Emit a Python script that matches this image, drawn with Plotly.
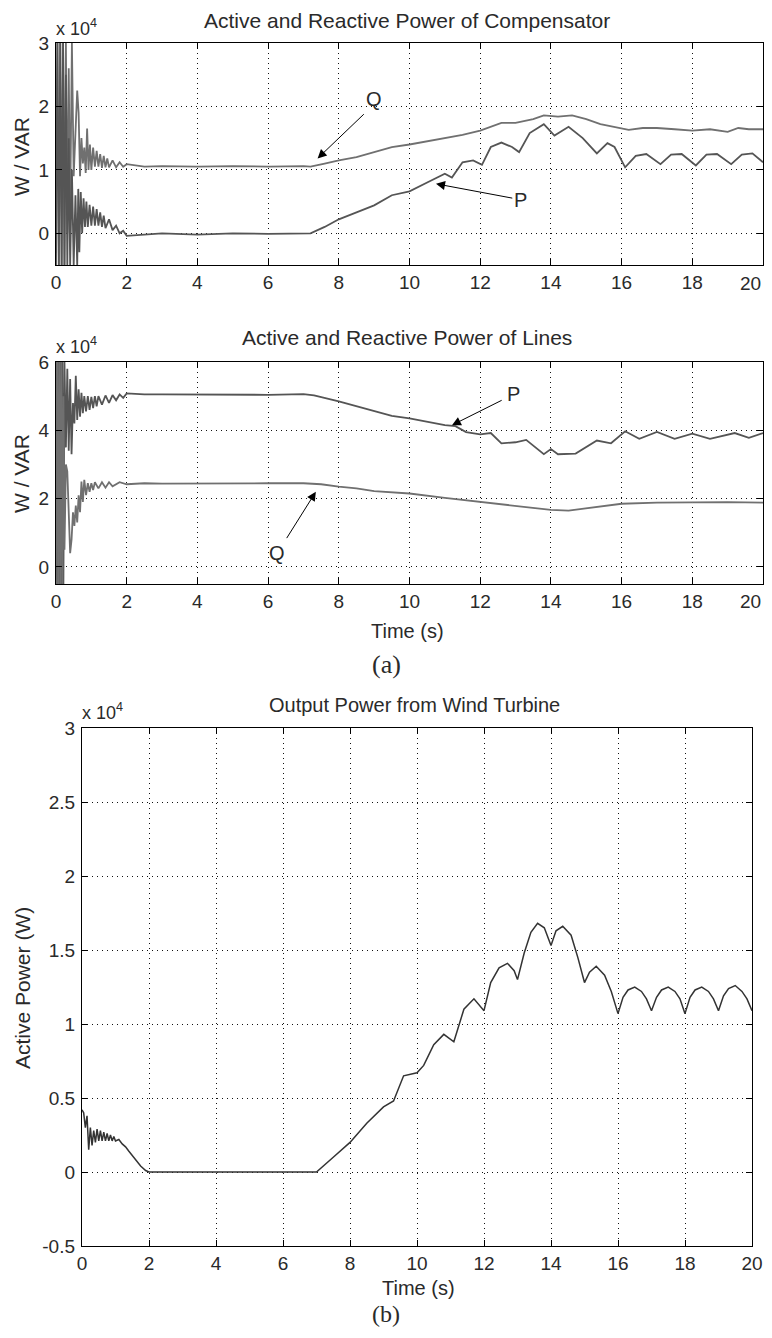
import plotly.graph_objects as go

# ---------------- data (values in units of 1e4) ----------------
# (a) top: Active and Reactive Power of Compensator
comp_q_t = [0.00,0.04,0.08,0.12,0.16,0.20,0.24,0.28,0.32,0.36,
            0.40,0.45,0.50,0.55,0.60,0.64,0.68,0.72,0.76,0.80,
            0.84,0.88,0.92,0.96,1.00,1.05,1.10,1.15,1.20,1.25,
            1.30,1.35,1.40,1.45,1.50,1.60,1.70,1.80,1.90,2.00,
            2.5,3.0,4.0,5.0,6.0,7.0,7.2,7.6,8.0,8.5,
            9.0,9.5,10.0,10.5,11.0,11.5,12.0,12.3,12.6,13.0,
            13.5,13.8,14.2,14.6,15.0,15.4,15.8,16.2,16.6,17.0,
            17.5,18.0,18.5,19.0,19.3,19.6,20.0]
comp_q_v = [1.0,3.0,-0.5,3.0,-0.5,3.0,-0.5,3.0,0.0,2.6,
            0.3,3.0,0.9,1.6,2.25,1.9,0.9,1.5,1.1,1.35,
            0.95,1.65,1.0,1.4,1.0,1.35,1.05,1.3,1.05,1.25,
            1.03,1.22,1.04,1.18,1.04,1.15,1.04,1.12,1.05,1.09,
            1.05,1.06,1.05,1.06,1.05,1.06,1.05,1.10,1.15,1.20,
            1.28,1.36,1.40,1.45,1.50,1.55,1.62,1.68,1.74,1.74,
            1.80,1.86,1.84,1.86,1.80,1.72,1.68,1.63,1.66,1.66,
            1.64,1.62,1.64,1.60,1.66,1.64,1.64]

comp_p_t = [0.00,0.04,0.08,0.12,0.16,0.20,0.24,0.28,0.32,0.36,
            0.40,0.45,0.50,0.55,0.60,0.63,0.66,0.70,0.74,0.78,
            0.82,0.86,0.90,0.95,1.00,1.05,1.10,1.15,1.20,1.25,
            1.30,1.35,1.40,1.50,1.60,1.70,1.80,1.90,2.00,2.5,
            3.0,4.0,5.0,6.0,7.0,7.2,7.6,8.0,8.5,9.0,
            9.5,10.0,10.5,11.0,11.2,11.5,11.8,12.05,12.3,12.6,
            12.9,13.1,13.4,13.8,14.1,14.5,14.9,15.3,15.6,15.8,
            16.1,16.4,16.7,17.1,17.4,17.7,18.1,18.4,18.7,19.1,
            19.4,19.7,20.0]
comp_p_v = [-0.5,3.0,-0.5,3.0,-0.5,3.0,-0.5,2.5,-0.5,1.5,
            -0.5,1.0,-0.5,0.6,-0.5,0.7,-0.3,0.65,0.0,0.55,
            0.1,0.5,0.1,0.45,0.12,0.42,0.12,0.38,0.12,0.33,
            0.10,0.28,0.08,0.22,0.05,0.12,0.0,0.04,-0.04,-0.02,
            0.0,-0.02,0.0,-0.01,0.0,0.0,0.1,0.22,0.33,0.44,
            0.6,0.66,0.80,0.94,0.88,1.12,1.15,1.08,1.36,1.43,
            1.36,1.28,1.58,1.72,1.54,1.68,1.50,1.26,1.42,1.36,
            1.04,1.22,1.25,1.09,1.24,1.25,1.07,1.24,1.25,1.09,
            1.24,1.26,1.12]

# (a) middle: Active and Reactive Power of Lines
line_p_t = [0.00,0.03,0.06,0.09,0.12,0.15,0.18,0.21,0.24,0.28,
            0.32,0.36,0.40,0.44,0.48,0.52,0.56,0.60,0.64,0.68,
            0.72,0.76,0.80,0.85,0.90,0.95,1.00,1.05,1.10,1.15,
            1.20,1.30,1.40,1.50,1.60,1.70,1.80,1.90,2.00,2.5,
            3.0,4.0,5.0,6.0,7.0,7.3,8.0,8.5,9.0,9.5,
            10.0,10.5,11.0,11.3,11.6,12.0,12.3,12.6,13.0,13.3,
            13.8,14.0,14.2,14.7,15.3,15.7,16.1,16.5,17.0,17.5,
            18.0,18.5,19.2,19.6,20.0]
line_p_v = [6.0,-0.5,6.0,-0.5,6.0,-0.5,6.0,-0.5,6.0,3.5,
            5.8,3.4,5.5,3.3,4.8,4.2,5.6,4.3,5.2,4.4,
            5.1,4.5,5.0,4.55,5.0,4.6,4.98,4.65,5.0,4.7,
            5.0,4.75,5.02,4.8,5.03,4.88,5.05,4.95,5.08,5.05,
            5.05,5.04,5.05,5.04,5.06,5.02,4.85,4.70,4.55,4.42,
            4.35,4.25,4.15,4.12,3.95,3.88,3.92,3.62,3.65,3.72,
            3.30,3.45,3.30,3.32,3.70,3.62,3.97,3.75,3.95,3.75,
            3.90,3.75,3.92,3.78,3.92]

line_q_t = [0.00,0.03,0.06,0.09,0.12,0.15,0.18,0.21,0.24,
            0.28,0.32,0.36,0.40,0.44,0.48,0.52,0.56,0.60,
            0.64,0.68,0.72,0.76,0.80,0.85,0.90,0.95,1.00,
            1.05,1.10,1.20,1.30,1.40,1.50,1.60,1.80,2.00,
            2.5,3.0,4.0,5.0,6.0,7.0,7.5,8.0,8.5,
            9.0,10.0,11.0,12.0,12.5,13.0,13.5,14.0,14.5,
            15.0,15.5,16.0,17.0,18.0,19.0,20.0]
line_q_v = [0.0,6.0,-0.5,6.0,-0.5,6.0,-0.5,5.0,0.5,
            3.0,2.8,1.5,0.4,0.8,1.6,1.2,1.8,1.3,
            2.1,1.6,2.5,1.9,2.55,2.1,2.45,2.2,2.45,
            2.25,2.48,2.3,2.48,2.32,2.48,2.36,2.48,2.42,
            2.45,2.44,2.45,2.44,2.45,2.45,2.42,2.35,2.30,
            2.22,2.15,2.02,1.90,1.85,1.78,1.72,1.67,1.65,
            1.72,1.78,1.85,1.88,1.90,1.90,1.88]

# (b): Output Power from Wind Turbine
wt_t = [0.00,0.05,0.10,0.15,0.20,0.25,0.30,0.35,0.40,0.45,
        0.50,0.55,0.60,0.65,0.70,0.75,0.80,0.85,0.90,0.95,
        1.00,1.10,1.20,1.30,1.40,1.50,1.60,1.75,1.90,2.00,
        3.0,4.0,5.0,6.0,7.00,7.5,8.0,8.5,9.0,9.3,
        9.6,10.0,10.2,10.5,10.8,11.1,11.4,11.7,12.0,12.2,
        12.45,12.7,12.9,13.0,13.2,13.4,13.6,13.8,14.0,14.15,
        14.35,14.6,14.8,15.0,15.15,15.35,15.6,15.8,16.0,16.15,
        16.3,16.5,16.7,16.85,17.0,17.15,17.3,17.5,17.7,17.85,
        18.0,18.15,18.3,18.5,18.7,18.85,19.0,19.15,19.3,19.5,
        19.7,19.85,20.0]
wt_v = [0.42,0.40,0.30,0.38,0.15,0.30,0.18,0.28,0.20,0.29,
        0.21,0.28,0.21,0.27,0.21,0.26,0.21,0.25,0.21,0.24,
        0.21,0.22,0.19,0.17,0.14,0.11,0.08,0.04,0.01,0.0,
        0.0,0.0,0.0,0.0,0.0,0.10,0.20,0.33,0.44,0.48,
        0.65,0.67,0.72,0.86,0.93,0.88,1.10,1.17,1.09,1.28,
        1.38,1.41,1.36,1.30,1.48,1.62,1.68,1.65,1.53,1.63,
        1.66,1.60,1.45,1.28,1.35,1.39,1.33,1.22,1.07,1.18,
        1.23,1.25,1.22,1.17,1.09,1.18,1.23,1.25,1.22,1.17,
        1.07,1.18,1.23,1.25,1.22,1.17,1.09,1.19,1.24,1.26,
        1.22,1.17,1.09]

x_ticks = [0, 2, 4, 6, 8, 10, 12, 14, 16, 18, 20]
x_labels_ab = ["0", "2", "4", "6", "8", "10", "12", "14", "16", "18", ""]
y1_ticks = [0, 1, 2, 3]
y2_ticks = [0, 2, 4, 6]
y3_ticks = [-0.5, 0, 0.5, 1, 1.5, 2, 2.5, 3]
y3_labels = ["-0.5", "0", "0.5", "1", "1.5", "2", "2.5", "3"]

# ---------------- figure ----------------
# the page body has an 8px margin, so the figure is 16px smaller than the window
PAGE_OFF = 8
W, H = 772 - 2 * PAGE_OFF, 1338 - 2 * PAGE_OFF
def px(x): return (x - PAGE_OFF) / W          # page pixel -> paper x
def py(y): return 1 - (y - PAGE_OFF) / H      # page pixel -> paper y

FONT = "Liberation Sans"
TXT = "#2a2a2a"

fig = go.Figure()
fig.add_trace(go.Scatter(x=comp_q_t, y=comp_q_v, mode="lines",
                         line=dict(color="#707070", width=1.8), xaxis="x", yaxis="y"))
fig.add_trace(go.Scatter(x=comp_p_t, y=comp_p_v, mode="lines",
                         line=dict(color="#555555", width=1.8), xaxis="x", yaxis="y"))
fig.add_trace(go.Scatter(x=line_p_t, y=line_p_v, mode="lines",
                         line=dict(color="#555555", width=1.8), xaxis="x2", yaxis="y2"))
fig.add_trace(go.Scatter(x=line_q_t, y=line_q_v, mode="lines",
                         line=dict(color="#707070", width=1.8), xaxis="x2", yaxis="y2"))
fig.add_trace(go.Scatter(x=wt_t, y=wt_v, mode="lines",
                         line=dict(color="#333333", width=1.5), xaxis="x3", yaxis="y3"))

def axis(**kw):
    d = dict(showline=True, linecolor="black", linewidth=1.3, mirror="allticks",
             ticks="inside", ticklen=6, tickcolor="black", tickwidth=1,
             showgrid=True, gridcolor="#111111", griddash="1px,4px", gridwidth=1.3,
             zeroline=False, automargin=False,
             tickfont=dict(family=FONT, size=19, color=TXT),
             fixedrange=True)
    d.update(kw)
    return d

dom_a = [px(56), px(763)]
dom_b = [px(82), px(752)]

fig.update_layout(
    width=W, height=H, showlegend=False,
    margin=dict(l=0, r=0, t=0, b=0),
    paper_bgcolor="white", plot_bgcolor="white",
    xaxis=axis(domain=dom_a, anchor="y", range=[0, 20], tickvals=x_ticks, ticktext=x_labels_ab),
    yaxis=axis(domain=[py(265), py(43)], anchor="x", range=[-0.5, 3], tickvals=y1_ticks,
               ticklabelstandoff=2),
    xaxis2=axis(domain=dom_a, anchor="y2", range=[0, 20], tickvals=x_ticks, ticktext=x_labels_ab),
    yaxis2=axis(domain=[py(584), py(362)], anchor="x2", range=[-0.5, 6], tickvals=y2_ticks,
                ticklabelstandoff=2),
    xaxis3=axis(domain=dom_b, anchor="y3", range=[0, 20], tickvals=x_ticks),
    yaxis3=axis(domain=[py(1246), py(728)], anchor="x3", range=[-0.5, 3],
                tickvals=y3_ticks, ticktext=y3_labels, ticklabelstandoff=2),
)

ann = []
def text(x, y, s, size=15, family=FONT, angle=0, xanchor="center"):
    ann.append(dict(x=px(x), y=py(y), xref="paper", yref="paper", text=s, showarrow=False,
                    font=dict(family=family, size=size, color=TXT), textangle=angle,
                    xanchor=xanchor, yanchor="middle"))

text(407, 21, "Active and Reactive Power of Compensator", size=21)
text(407, 337, "Active and Reactive Power of Lines", size=21)
text(414, 705, "Output Power from Wind Turbine", size=20)
text(54, 27, "x 10<sup>4</sup>", size=18, xanchor="left")
text(54, 345, "x 10<sup>4</sup>", size=18, xanchor="left")
text(80, 711, "x 10<sup>4</sup>", size=18, xanchor="left")
text(21, 157, "W / VAR", size=21, angle=-90)
text(21, 474, "W / VAR", size=21, angle=-90)
text(22, 988, "Active Power (W)", size=21, angle=-90)
text(407, 631, "Time (s)", size=20)
text(418, 1288, "Time (s)", size=20)
text(387, 664, "(a)", size=26, family="Liberation Serif")
text(386, 1314, "(b)", size=24, family="Liberation Serif")
# last x tick label of the two upper panels sits at the page edge
text(763, 283, "20", size=19, xanchor="right")
text(763, 602, "20", size=19, xanchor="right")

def arrow(xr, yr, head, tail, label, label_pos):
    ann.append(dict(x=head[0], y=head[1], ax=tail[0], ay=tail[1], xref=xr, yref=yr,
                    axref=xr, ayref=yr, text="", showarrow=True, arrowhead=2,
                    arrowsize=1.8, arrowwidth=1, arrowcolor="black"))
    ann.append(dict(x=label_pos[0], y=label_pos[1], xref=xr, yref=yr, text=label,
                    showarrow=False, font=dict(family=FONT, size=20, color=TXT)))

arrow("x", "y", (7.4, 1.18), (8.75, 1.9), "Q", (9.0, 2.12))
arrow("x", "y", (10.75, 0.78), (12.95, 0.55), "P", (13.15, 0.52))
arrow("x2", "y2", (11.2, 4.15), (12.65, 4.9), "P", (12.95, 5.05))
arrow("x2", "y2", (7.35, 2.2), (6.5, 0.8), "Q", (6.25, 0.42))

fig.update_layout(annotations=ann)
fig.write_html("out.html")
